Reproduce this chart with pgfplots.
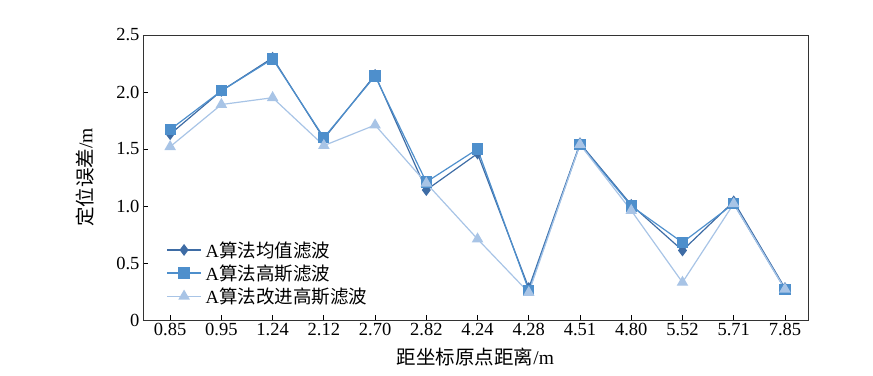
\documentclass[border=0pt]{standalone}
\usepackage{pgfplots}
\pgfplotsset{compat=1.18}
\usepackage{fontspec}
\setmainfont{Liberation Serif}
\newfontfamily\cjk{Noto Sans CJK SC}
\definecolor{cA}{RGB}{62,108,165}
\definecolor{cB}{RGB}{78,143,204}
\definecolor{cC}{RGB}{168,196,230}
\pgfplotstableread{
x a b c
0 1.63 1.67 1.52
1 2.01 2.01 1.89
2 2.30 2.29 1.95
3 1.59 1.60 1.53
4 2.15 2.14 1.71
5 1.14 1.21 1.20
6 1.46 1.50 0.71
7 0.28 0.26 0.24
8 1.55 1.54 1.54
9 1.01 1.00 0.96
10 0.61 0.68 0.33
11 1.04 1.02 1.02
12 0.28 0.27 0.27
}\datatable
\begin{document}
\begin{tikzpicture}
\path[use as bounding box] (-143pt,-55pt) rectangle (730pt,320pt);
\begin{axis}[
  scale only axis, width=665pt, height=285pt,
  xmin=-0.53, xmax=12.45, ymin=0, ymax=2.5,
  xtick={0,...,12},
  xticklabels={0.85,0.95,1.24,2.12,2.70,2.82,4.24,4.28,4.51,4.80,5.52,5.71,7.85},
  ytick={0,0.5,1,1.5,2,2.5},
  yticklabels={0,0.5,1.0,1.5,2.0,2.5},
  tick align=inside, major tick length=5pt,
  xtick pos=bottom, ytick pos=left,
  tick style={black, line width=0.8pt},
  axis line style={line width=0.8pt, black!80},
  ticklabel style={font=\fontsize{18.5}{21}\selectfont},
  /pgf/number format/assume math mode=true,
  xlabel={\cjk 距坐标原点距离\rmfamily /m},
  ylabel={\cjk 定位误差\rmfamily /m},
  label style={font=\fontsize{19.5}{22}\selectfont},
  xlabel style={at={(axis description cs:0.5,-0.13)}, anchor=center},
  ylabel style={at={(axis description cs:-0.0872,0.5)}, anchor=center},
  legend style={draw=none, fill=none, at={(0.035,0.28)}, anchor=north west,
    font=\fontsize{18.5}{21}\selectfont, row sep=4pt, inner sep=0pt,
    nodes={inner sep=1pt}},
  legend cell align=left,
  legend image code/.code={\draw[mark repeat=2,mark phase=2,#1] plot coordinates {(0pt,0pt)(17pt,0pt)(34pt,0pt)};},
]
\addplot[cA, line width=1.2pt, mark=diamond*, mark size=5pt, mark options={fill=cA}] table[x=x,y=a]{\datatable};
\addlegendentry{\hspace{3pt}A{\cjk 算法均值滤波}}
\addplot[cB, line width=1.2pt, mark=square*, mark size=5pt, mark options={fill=cB}] table[x=x,y=b]{\datatable};
\addlegendentry{\hspace{3pt}A{\cjk 算法高斯滤波}}
\addplot[cC, line width=1.2pt, mark=triangle*, mark size=5.5pt, mark options={fill=cC}] table[x=x,y=c]{\datatable};
\addlegendentry{\hspace{3pt}A{\cjk 算法改进高斯滤波}}
\end{axis}
\end{tikzpicture}
\end{document}
